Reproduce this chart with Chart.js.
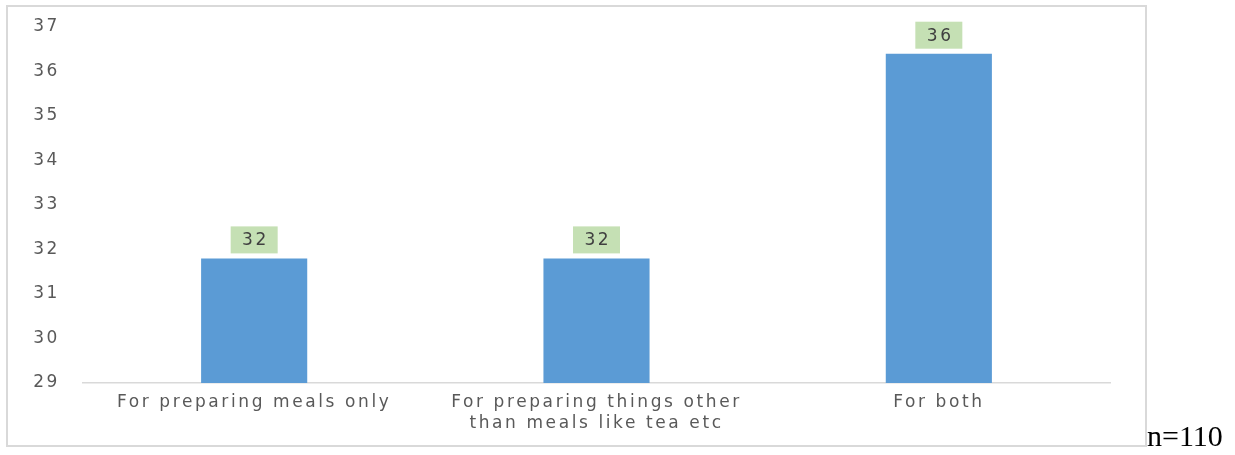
<!DOCTYPE html>
<html><head><meta charset="utf-8">
<script src="https://cdn.jsdelivr.net/npm/chart.js@4.4.1/dist/chart.umd.min.js"></script>
<style>
html,body{margin:0;padding:0;background:#fff;width:1235px;height:455px;overflow:hidden;}
#frame{position:absolute;left:6px;top:5px;width:1137px;height:438px;border:2px solid #d9d9d9;}
#c{position:absolute;left:0;top:0;}
#n{position:absolute;left:1147px;top:421px;font-family:"Liberation Serif",serif;font-size:30px;line-height:30px;color:#000;white-space:nowrap;}
</style></head>
<body>
<div id="frame"></div>
<canvas id="c" width="1235" height="455"></canvas>
<div id="n">n=110</div>
<script>
const categories = [["For preparing meals only"], ["For preparing things other", "than meals like tea etc"], ["For both"]];
const values = [31.8, 31.8, 36.4];
const valueLabels = ["32", "32", "36"];
const yTicks = [29, 30, 31, 32, 33, 34, 35, 36, 37];

const FONT = '"DejaVu Sans", sans-serif';
const spacingPlugin = {
  id: 'spacing',
  beforeDraw(chart) { chart.ctx.letterSpacing = '2.6px'; }
};
const labelPlugin = {
  id: 'vlabels',
  afterDatasetsDraw(chart) {
    const ctx = chart.ctx;
    const meta = chart.getDatasetMeta(0);
    ctx.save();
    ctx.font = '17px ' + FONT;
    meta.data.forEach((bar, i) => {
      const w = 47, h = 27;
      const x = bar.x - w / 2, y = bar.y - 5 - h;
      ctx.fillStyle = '#c5e0b4';
      ctx.fillRect(x, y, w, h);
      ctx.fillStyle = '#404040';
      ctx.textAlign = 'center';
      ctx.textBaseline = 'middle';
      ctx.fillText(valueLabels[i], bar.x + 1.3, y + h / 2 + 1);
    });
    ctx.restore();
  }
};

new Chart(document.getElementById('c'), {
  type: 'bar',
  data: {
    labels: categories,
    datasets: [{
      data: values,
      backgroundColor: '#5b9bd5',
      borderWidth: 0,
      categoryPercentage: 1,
      barPercentage: 0.31
    }]
  },
  options: {
    responsive: false,
    devicePixelRatio: 1,
    animation: false,
    layout: { padding: { left: 0, right: 125, top: 27, bottom: 12 } },
    plugins: { legend: { display: false }, tooltip: { enabled: false } },
    scales: {
      x: {
        grid: { display: false, drawTicks: false },
        border: { display: true, color: '#d9d9d9', width: 1.5 },
        ticks: { color: '#595959', font: { family: FONT, size: 17, lineHeight: 1.18 }, padding: 10, maxRotation: 0, autoSkip: false },
        afterFit(s) { s.height = 60; }
      },
      y: {
        min: yTicks[0],
        max: yTicks[yTicks.length - 1],
        grid: { display: false, drawTicks: false },
        border: { display: false },
        ticks: { stepSize: 1, color: '#595959', font: { family: FONT, size: 17 }, padding: 23 },
        afterFit(s) { s.width = 83; s.paddingTop = 0; s.paddingBottom = 0; }
      }
    }
  },
  plugins: [spacingPlugin, labelPlugin]
});
</script>
</body></html>
